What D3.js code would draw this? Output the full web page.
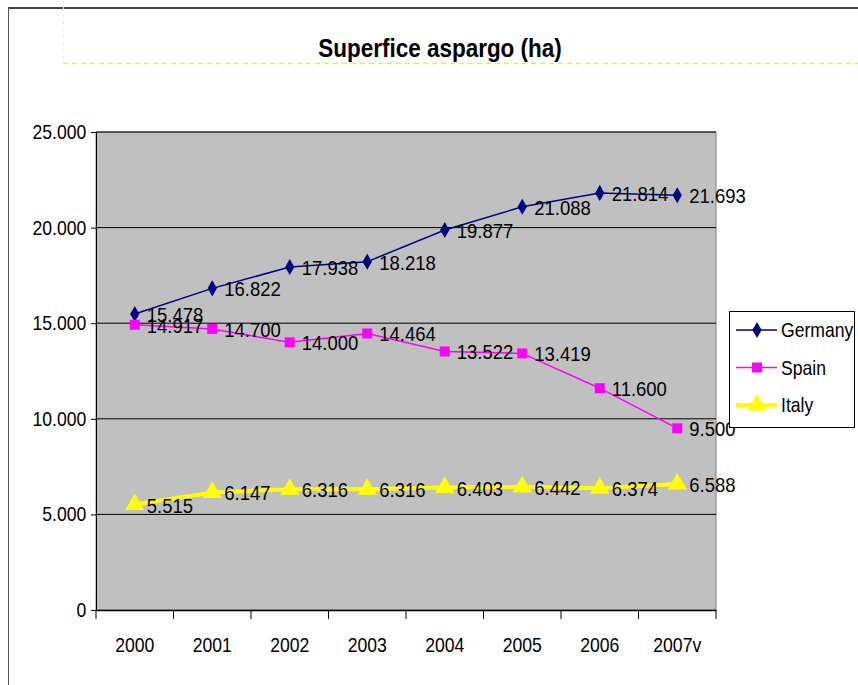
<!DOCTYPE html>
<html>
<head>
<meta charset="utf-8">
<script src="https://cdn.jsdelivr.net/npm/d3@7"></script>
<style>
  body { margin: 0; background: #fff; }
  text { font-family: "Liberation Sans", Arial, sans-serif; }
</style>
</head>
<body>
<div id="chart"></div>
<script>
// data
var years = ["2000", "2001", "2002", "2003", "2004", "2005", "2006", "2007v"];
var germany = [15478, 16822, 17938, 18218, 19877, 21088, 21814, 21693];
var spain = [14917, 14700, 14000, 14464, 13522, 13419, 11600, 9500];
var italy = [5515, 6147, 6316, 6316, 6403, 6442, 6374, 6588];
var yTicks = [0, 5000, 10000, 15000, 20000, 25000];

var series = [
    {name: "Germany", values: germany, color: "#000080", width: 1.5, symbol: d3.symbolDiamond, size: 75},
    {name: "Spain", values: spain, color: "#FF00FF", width: 1.5, symbol: d3.symbolSquare, size: 100},
    {name: "Italy", values: italy, color: "#FFFF00", width: 4, symbol: d3.symbolTriangle, size: 160}
];

var W = 858, H = 685;
var margin = {top: 132, right: 142, bottom: 75, left: 96};
var width = W - margin.left - margin.right,
    height = H - margin.top - margin.bottom;
var SX = 0.88; // the original text is drawn narrow

var locale = d3.formatLocale({decimal: ",", thousands: ".", grouping: [3], currency: ["", ""]});
var fmt = locale.format(",d");

var svg = d3.select("#chart").append("svg")
    .attr("width", W)
    .attr("height", H);

// outer chart frame
svg.append("line").attr("x1", 8).attr("x2", W).attr("y1", 8).attr("y2", 8)
    .attr("stroke", "#444").attr("stroke-width", 2);
svg.append("line").attr("x1", 8.5).attr("x2", 8.5).attr("y1", 8).attr("y2", H)
    .attr("stroke", "#555").attr("stroke-width", 1);

// dashed selection box around title
svg.append("line").attr("x1", 63).attr("x2", W).attr("y1", 63.5).attr("y2", 63.5)
    .attr("stroke", "#f2e83a").attr("stroke-width", 1.5).attr("stroke-dasharray", "5,4");
svg.append("line").attr("x1", 63.5).attr("x2", 63.5).attr("y1", 0).attr("y2", 63)
    .attr("stroke", "#f8f0a0").attr("stroke-width", 1).attr("stroke-dasharray", "3,4");

svg.append("text")
    .attr("transform", "translate(440,57) scale(0.9,1)")
    .attr("text-anchor", "middle")
    .attr("font-size", 25)
    .attr("font-weight", "bold")
    .text("Superfice aspargo (ha)");

var g = svg.append("g")
    .attr("transform", "translate(" + margin.left + "," + margin.top + ")");

var x = d3.scaleBand().domain(years).range([0, width]);
var y = d3.scaleLinear().domain([0, 25000]).range([height, 0]);

g.append("rect")
    .attr("width", width)
    .attr("height", height)
    .attr("fill", "#C0C0C0")
    .attr("stroke", "#808080");

// gridlines
g.selectAll(".grid")
    .data(yTicks.slice(1))
    .enter().append("line")
    .attr("x1", 0).attr("x2", width)
    .attr("y1", function(d) { return y(d); })
    .attr("y2", function(d) { return y(d); })
    .attr("stroke", "#000").attr("stroke-width", 1);

// y axis
var yAxis = g.append("g")
    .call(d3.axisLeft(y).tickValues(yTicks).tickSize(5).tickPadding(6)
        .tickFormat(function(d) { return d === 0 ? "0" : fmt(d); }));
yAxis.select(".domain").attr("stroke", "#000");
yAxis.selectAll("text").attr("font-size", 20).attr("fill", "#000")
    .attr("transform", "scale(" + SX + ",1)")
    .style("font-family", "'Liberation Sans', Arial, sans-serif");

// x axis: ticks between categories
var xAxis = g.append("g")
    .attr("transform", "translate(0," + height + ")")
    .call(d3.axisBottom(x).tickSize(0).tickPadding(28));
xAxis.select(".domain").attr("stroke", "#000").attr("stroke-width", 1.5);
xAxis.selectAll("text").attr("font-size", 20).attr("fill", "#000")
    .attr("transform", "scale(" + SX + ",1)")
    .style("font-family", "'Liberation Sans', Arial, sans-serif");
xAxis.selectAll(".sep")
    .data(years.concat(["end"]))
    .enter().append("line")
    .attr("x1", function(d, i) { return i * x.step(); })
    .attr("x2", function(d, i) { return i * x.step(); })
    .attr("y1", 0).attr("y2", 9)
    .attr("stroke", "#000");

var line = d3.line()
    .x(function(d, i) { return x(years[i]) + x.bandwidth() / 2; })
    .y(function(d) { return y(d); });

series.forEach(function(s) {
    var sg = g.append("g");
    sg.append("path")
        .attr("d", line(s.values))
        .attr("fill", "none")
        .attr("stroke", s.color)
        .attr("stroke-width", s.width);

    sg.selectAll("path.mark")
        .data(s.values)
        .enter().append("path")
        .attr("class", "mark")
        .attr("d", d3.symbol().type(s.symbol).size(s.size))
        .attr("transform", function(d, i) {
            return "translate(" + (x(years[i]) + x.bandwidth() / 2) + "," + y(d) + ")";
        })
        .attr("fill", s.color);

    sg.selectAll("text")
        .data(s.values)
        .enter().append("text")
        .attr("transform", function(d, i) {
            return "translate(" + (x(years[i]) + x.bandwidth() / 2 + 12) + "," + (y(d) + 8) + ") scale(" + SX + ",1)";
        })
        .attr("font-size", 21)
        .attr("fill", "#000")
        .text(function(d) { return fmt(d); });
});

// legend
var legend = svg.append("g").attr("transform", "translate(729,311)");
legend.append("rect")
    .attr("x", 0.5).attr("y", 0.5)
    .attr("width", 125).attr("height", 116)
    .attr("fill", "#fff").attr("stroke", "#000");

series.forEach(function(s, i) {
    var ly = 19 + i * 37.5;
    legend.append("line")
        .attr("x1", 7).attr("x2", 48)
        .attr("y1", ly).attr("y2", ly)
        .attr("stroke", s.color).attr("stroke-width", s.width);
    legend.append("path")
        .attr("d", d3.symbol().type(s.symbol).size(s.size))
        .attr("transform", "translate(28," + ly + ")")
        .attr("fill", s.color);
    legend.append("text")
        .attr("transform", "translate(52," + (ly + 7) + ") scale(" + SX + ",1)")
        .attr("font-size", 20)
        .text(s.name);
});
</script>
</body>
</html>
